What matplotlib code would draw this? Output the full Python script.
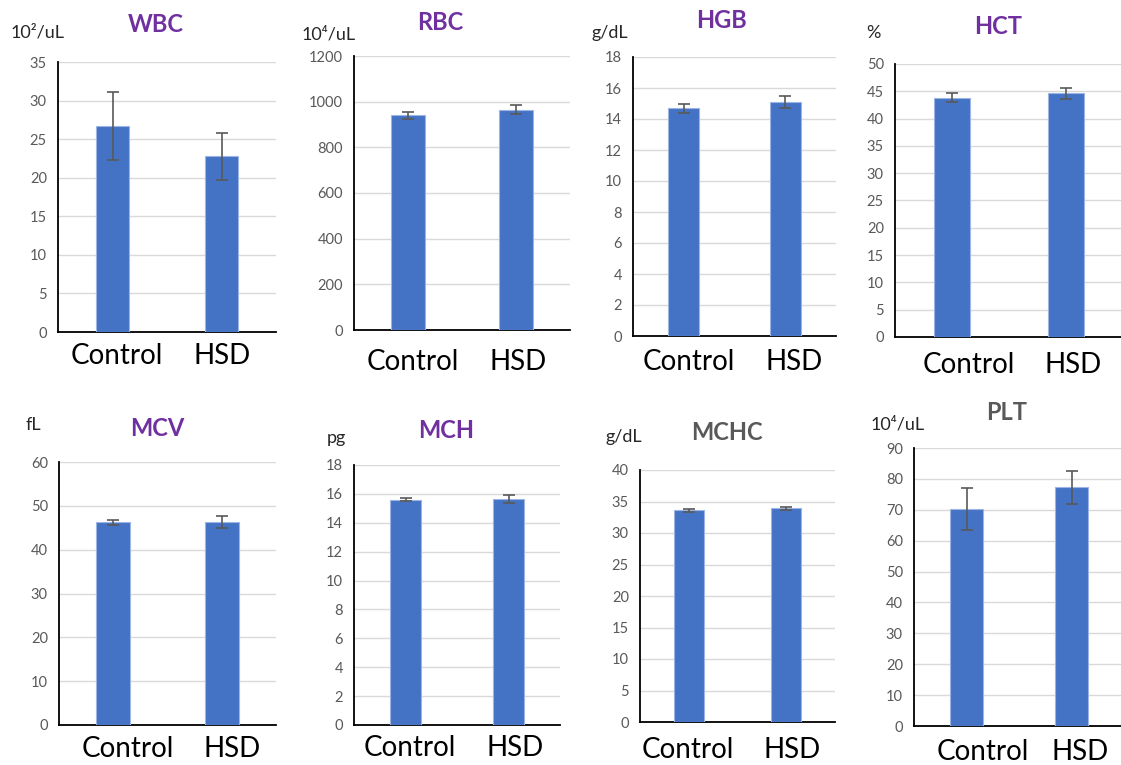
#Blood panel: Control vs HSD, mean +/- error bars, one small chart per parameter
import numpy as np
import matplotlib as mpl
import matplotlib.pyplot as plt

mpl.rcParams['font.family'] = ['Lato', 'DejaVu Sans']

#%%
#data
groups = ["Control", "HSD"]
titles = ["WBC", "RBC", "HGB", "HCT", "MCV", "MCH", "MCHC", "PLT"]
units = ["10\u00b2/uL", "10\u2074/uL", "g/dL", "%", "fL", "pg", "g/dL", "10\u2074/uL"]
y_max = [35, 1200, 18, 50, 60, 18, 40, 90]
y_step = [5, 200, 2, 5, 10, 2, 5, 10]

wbc_mean = [26.7, 22.8]
wbc_err = [4.45, 3.05]
rbc_mean = [940, 965]
rbc_err = [16, 19]
hgb_mean = [14.7, 15.1]
hgb_err = [0.3, 0.37]
hct_mean = [43.8, 44.6]
hct_err = [0.8, 1.05]
mcv_mean = [46.2, 46.3]
mcv_err = [0.65, 1.3]
mch_mean = [15.6, 15.62]
mch_err = [0.12, 0.27]
mchc_mean = [33.6, 33.9]
mchc_err = [0.2, 0.25]
plt_mean = [70.3, 77.3]
plt_err = [6.8, 5.3]

means = [wbc_mean, rbc_mean, hgb_mean, hct_mean, mcv_mean, mch_mean, mchc_mean, plt_mean]
errs = [wbc_err, rbc_err, hgb_err, hct_err, mcv_err, mch_err, mchc_err, plt_err]

#%%
#layout in pixels (x0, x1, y_top, y_bottom), title / unit / group label positions
W, H = 1121, 765
boxes = [(58, 276, 62, 332), (354, 570, 56, 330), (633, 836, 57, 336), (895, 1123, 64, 337),
         (59, 276, 462, 725), (354, 560, 465, 725), (640, 835, 470, 722), (914, 1124, 448, 726)]
title_xy = [(156, 24), (440, 22), (722, 20), (998, 27), (157, 429), (446, 431), (727, 433), (1007, 412)]
unit_xy = [(11, 32), (302, 34), (592, 33), (866, 33), (26, 425), (327, 438), (606, 437), (871, 424)]
label_x = [(117, 222), (413, 518), (689, 794), (969, 1073),
           (128, 232), (410, 515), (688, 792), (983, 1080)]
label_y = [356, 362, 362, 365, 749, 748, 750, 752]
title_col = ['#7030A0'] * 6 + ['#595959'] * 2

bar_col = '#4472C4'
grid_col = '#D9D9D9'
tick_col = '#595959'

fig = plt.figure(figsize=(W / 100, H / 100), dpi=100)

for i in range(len(titles)):
    x0, x1, yt, yb = boxes[i]
    ax = fig.add_axes([x0 / W, 1 - yb / H, (x1 - x0) / W, (yb - yt) / H])
    xpos = np.arange(len(groups))
    ax.bar(xpos, means[i], width=0.31, color=bar_col, edgecolor='#9DB5E2', linewidth=0.8, zorder=3)
    ax.errorbar(xpos, means[i], yerr=errs[i], fmt='none', ecolor='#595959',
                elinewidth=1.2, capsize=4.5, capthick=1.2, zorder=4)
    ax.set_xlim(-0.5, 1.5)
    ax.set_ylim(0, y_max[i])
    ax.set_yticks(np.arange(0, y_max[i] + y_step[i] / 2, y_step[i]))
    ax.yaxis.grid(True, color=grid_col, linewidth=1.0, zorder=0)
    ax.set_axisbelow(True)
    ax.set_xticks([])
    ax.tick_params(axis='y', length=0, labelsize=10.5, labelcolor=tick_col, pad=8)
    for side in ['top', 'right']:
        ax.spines[side].set_visible(False)
    ax.spines['left'].set_color('black')
    ax.spines['bottom'].set_color('black')
    ax.spines['left'].set_linewidth(1.3)
    ax.spines['bottom'].set_linewidth(1.3)

    # group names under the bars
    for k in range(len(groups)):
        fig.text(label_x[i][k] / W, 1 - label_y[i] / H, groups[k], ha='center', va='center',
                 fontsize=20, color='black')

    tx, ty = title_xy[i]
    fig.text(tx / W, 1 - ty / H, titles[i], ha='center', va='center', fontsize=17,
             fontweight='bold', color=title_col[i])
    ux, uy = unit_xy[i]
    fig.text(ux / W, 1 - uy / H, units[i], ha='left', va='center', fontsize=13, color='#262626')

plt.savefig("out.png", dpi=100)
